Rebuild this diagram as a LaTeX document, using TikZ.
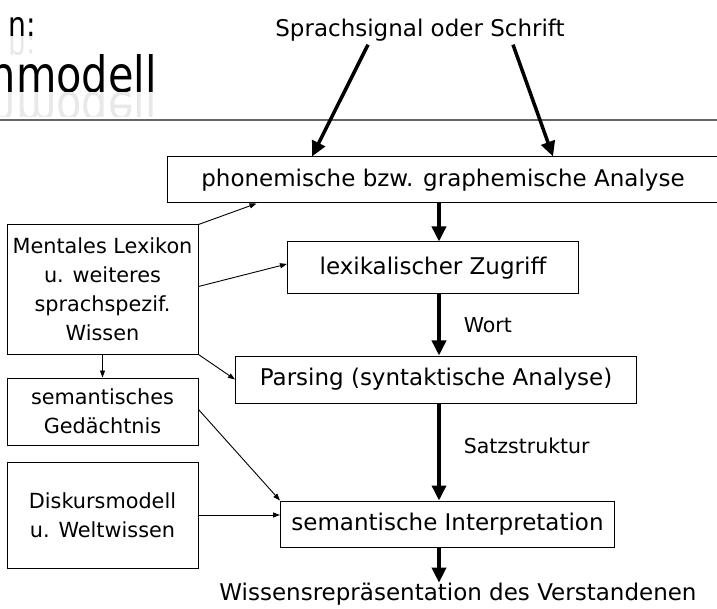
\documentclass[tikz,border=0pt]{standalone}
\usepackage{fontspec}
\setmainfont{DejaVu Sans}
\newfontfamily\titlefont[FakeStretch=0.83]{DejaVu Sans}
\usetikzlibrary{positioning, arrows.meta, calc, fadings}

\begin{document}
\begin{tikzpicture}[
    x=1pt, y=-1pt,
    font=\fontsize{23}{29}\selectfont,
    box/.style={rectangle, draw, line width=1pt, align=center, inner sep=2pt},
    side/.style={box, minimum width=191pt, font=\fontsize{20.8}{29}\selectfont},
    lbl/.style={right=23pt, inner sep=0pt, font=\fontsize{20.5}{24}\selectfont},
    title/.style={anchor=base east, inner sep=0pt},
    bigarrow/.style={-{Triangle[length=15pt,width=14pt]}, line width=3.5pt},
    thinarrow/.style={-{Triangle[length=7pt,width=5pt]}, line width=0.9pt}
]
    \useasboundingbox (0,0) rectangle (717,609);
    \clip (0,0) rectangle (717,609);

    % rest of the slide title, with its reflection
    \node[title, font=\titlefont\fontsize{34}{34}\selectfont] (tone) at (36,37) {n:};
    \node[title, font=\titlefont\fontsize{50}{50}\selectfont] (ttwo) at (157,93) {nmodell};
    \begin{scope}
        \clip (0,37) rectangle (200,55);
        \node[title, yscale=-1, text=black!9, font=\titlefont\fontsize{34}{34}\selectfont] at (36,37) {n:};
    \end{scope}
    \begin{scope}
        \clip (0,93) rectangle (200,117);
        \node[title, yscale=-1, text=black!9, font=\titlefont\fontsize{50}{50}\selectfont] at (157,93) {nmodell};
    \end{scope}
    \coordinate (rulel) at (0,120);
    \coordinate (ruler) at (717,120);
    \draw[line width=1.5pt, black!60] (rulel) -- (ruler);

    % main chain
    \node (signal) at (420,30) {Sprachsignal oder Schrift};
    \node[box, minimum width=552pt, minimum height=46pt] (phon) at (443,180) {phonemische bzw. graphemische Analyse};
    \node[box, minimum width=291pt, minimum height=52pt, below=38pt of phon, xshift=-10pt] (lex) {lexikalischer Zugriff};
    \node[box, minimum width=401pt, minimum height=47pt, below=61pt of lex, xshift=3pt] (pars) {Parsing (syntaktische Analyse)};
    \node[box, minimum width=334pt, minimum height=46pt, below=97pt of pars, xshift=11.5pt] (sem) {semantische Interpretation};
    \node[inner sep=0pt] (result) at (458,594) {Wissensrepräsentation des Verstandenen};

    % knowledge sources
    \node[side, minimum height=129pt] (ment) at (102.5,289.5) {Mentales Lexikon\\u. weiteres\\sprachspezif.\\Wissen};
    \node[side, minimum height=67pt, below=23pt of ment] (ged) {semantisches\\Gedächtnis};
    \node[side, minimum height=106pt, below=16pt of ged] (disk) {Diskursmodell\\u. Weltwissen};

    \coordinate (axis) at (439,0);

    \draw[bigarrow] ([xshift=-52pt]signal.south) -- ([xshift=-131pt]phon.north);
    \draw[bigarrow] ([xshift=93pt]signal.south) -- ([xshift=110pt]phon.north);
    \draw[bigarrow] (phon.south -| axis) -- (lex.north -| axis);
    \draw[bigarrow] (lex.south -| axis) -- node[lbl]{Wort} (pars.north -| axis);
    \draw[bigarrow] (pars.south -| axis) -- node[lbl, pos=.44]{Satzstruktur} (sem.north -| axis);
    \draw[bigarrow] (sem.south -| axis) -- (result.north -| axis);

    \draw[thinarrow] (ment.north east) -- ([xshift=90pt]phon.south west);
    \draw[thinarrow] ([yshift=3pt]ment.east) -- ([yshift=4pt]lex.west);
    \draw[thinarrow] (ment.south east) -- (pars.west);
    \draw[thinarrow] (ment.south) -- (ged.north);
    \draw[thinarrow] ([yshift=2pt]ged.east) -- (sem.north west);
    \draw[thinarrow] (disk.east) -- (disk.east -| sem.west);
\end{tikzpicture}
\end{document}
